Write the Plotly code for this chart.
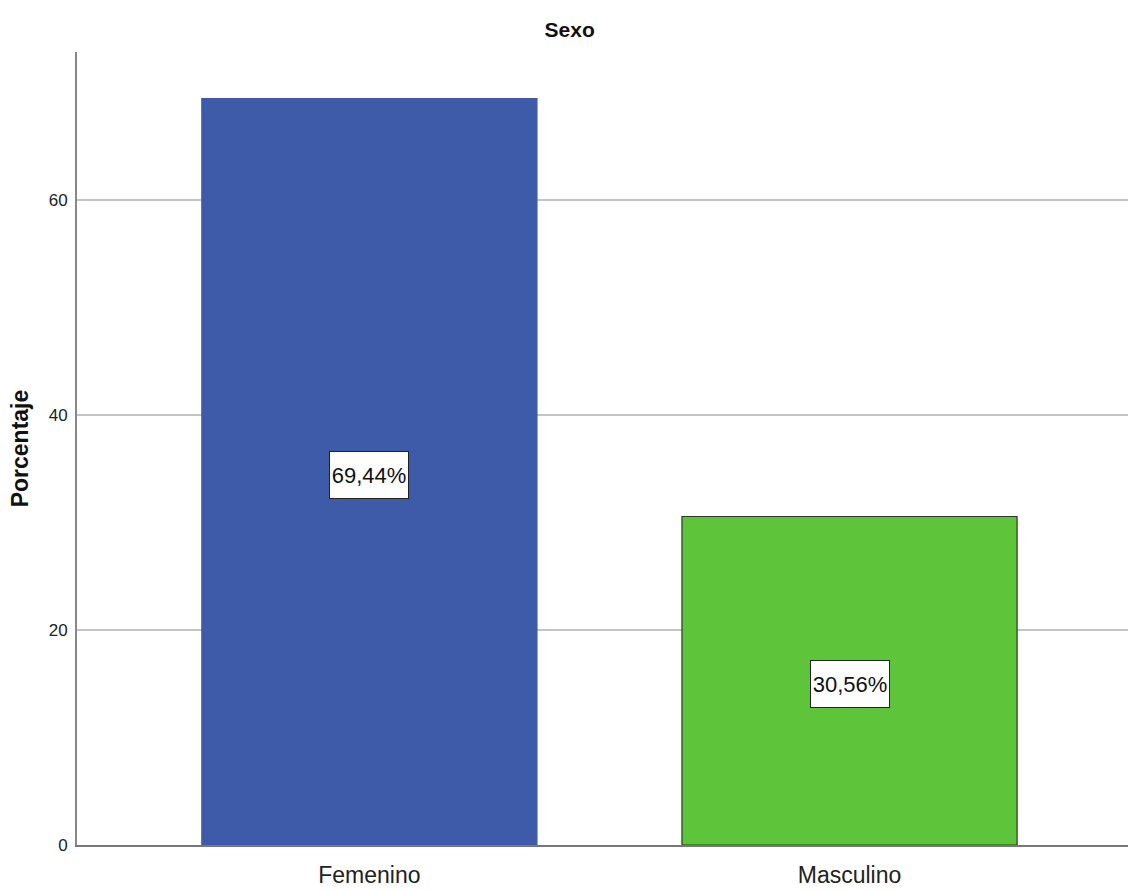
import plotly.graph_objects as go

# Sexo: percentage distribution
categories = ["Femenino", "Masculino"]
percentages = [69.44, 30.56]
bar_colors = ["#3e5ba9", "#5ec43a"]
bar_lines = ["#3e5ba9", "#2a3a22"]
y_ticks = [0, 20, 40, 60]

narrow = "Liberation Sans Narrow, Arial Narrow, Liberation Sans, sans-serif"
xpos = list(range(len(categories)))

fig = go.Figure()
fig.add_trace(go.Bar(
    x=xpos,
    y=percentages,
    width=0.698,
    marker=dict(color=bar_colors, line=dict(color=bar_lines, width=1.2)),
    hoverinfo="skip",
))

# value labels in white boxes at mid-height of each bar
for xi, v in zip(xpos, percentages):
    fig.add_annotation(
        x=xi, y=v / 2,
        yshift=-3,
        text=f"{v:.2f}%".replace(".", ","),
        showarrow=False,
        font=dict(family=narrow, size=22, color="#111111"),
        bgcolor="white",
        bordercolor="#222222",
        borderwidth=1,
        borderpad=1,
        width=76,
        height=44,
    )

fig.update_layout(
    width=1128,
    height=890,
    margin=dict(l=77, r=0, t=52, b=45),
    paper_bgcolor="white",
    plot_bgcolor="white",
    showlegend=False,
    title=dict(
        text="<b>Sexo</b>",
        x=0.505, xanchor="center",
        y=0.967, yanchor="middle",
        font=dict(family=narrow, size=21, color="#111111"),
    ),
    xaxis=dict(
        range=[-0.609, 1.58],
        tickvals=xpos,
        ticktext=categories,
        tickfont=dict(family=narrow, size=23, color="#222222"),
        ticklabelstandoff=8,
        showgrid=False,
        showline=True,
        linecolor="#777777",
        linewidth=2,
        ticks="",
        zeroline=False,
    ),
    yaxis=dict(
        range=[0, 73.77],
        tickvals=y_ticks,
        tickfont=dict(family=narrow, size=17, color="#222222"),
        ticklabelstandoff=4,
        showgrid=True,
        gridcolor="#c4c4c4",
        gridwidth=2,
        showline=True,
        linecolor="#888888",
        linewidth=2,
        ticks="",
        ticklen=0,
        zeroline=False,
        title=dict(
            text="<b>Porcentaje</b>",
            font=dict(family="Liberation Sans, Arial, sans-serif", size=23, color="#111111"),
            standoff=14,
        ),
    ),
)

fig.write_html("out.html")
